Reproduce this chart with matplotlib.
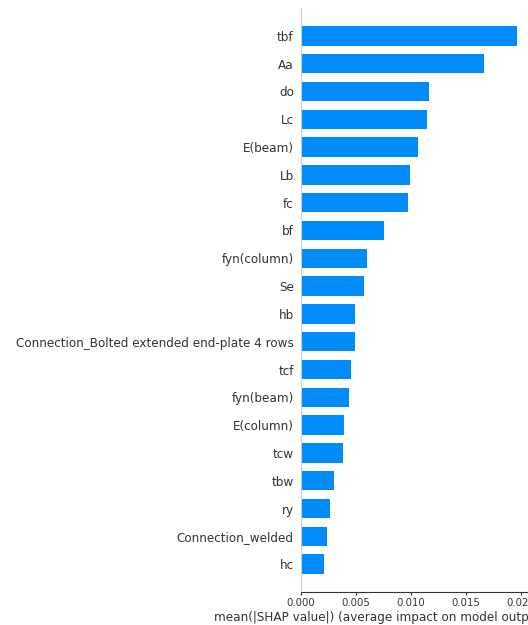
import matplotlib.pyplot as plt
import numpy as np

# datos (orden de arriba hacia abajo)
features = ['tbf', 'Aa', 'do', 'Lc', 'E(beam)', 'Lb', 'fc', 'bf', 'fyn(column)', 'Se',
            'hb', 'Connection_Bolted extended end-plate 4 rows', 'tcf', 'fyn(beam)',
            'E(column)', 'tcw', 'tbw', 'ry', 'Connection_welded', 'hc']
shap_mean = [0.01966, 0.01666, 0.01166, 0.01142, 0.01064, 0.00996, 0.00976, 0.00755,
             0.00606, 0.00573, 0.00497, 0.00491, 0.00455, 0.00437, 0.00391, 0.00382,
             0.00306, 0.00264, 0.00240, 0.00209]

fig = plt.figure(figsize=(5.28, 6.25), dpi=100)
ax = fig.add_axes([300.7/528, 1-592/625, 227/528, 584/625])

y = np.arange(len(features))[::-1]
ax.barh(y, shap_mean, 0.7, color='#008bfb', align='center')
ax.set_yticks(y)
ax.set_yticklabels(features, fontsize=8.65, color='#333333')
ax.set_ylim(-1, len(features))
ax.set_xlim(0, 0.0206)
ax.set_xticks([0, 0.005, 0.01, 0.015, 0.02])
ax.set_xticklabels(['0.000', '0.005', '0.010', '0.015', '0.020'])
ax.tick_params(axis='y', length=0, pad=5)
ax.tick_params(axis='x', labelsize=7.3, labelcolor='#333333', color='#333333',
               length=2.5, pad=2)
ax.set_xlabel('mean(|SHAP value|) (average impact on model output magnitude)',
              fontsize=8.65, color='#333333', labelpad=2)

for s in ['right', 'top']:
    ax.spines[s].set_visible(False)
ax.spines['left'].set_color('#cccccc')
ax.spines['bottom'].set_color('#333333')

fig.savefig('out.png', dpi=100)
